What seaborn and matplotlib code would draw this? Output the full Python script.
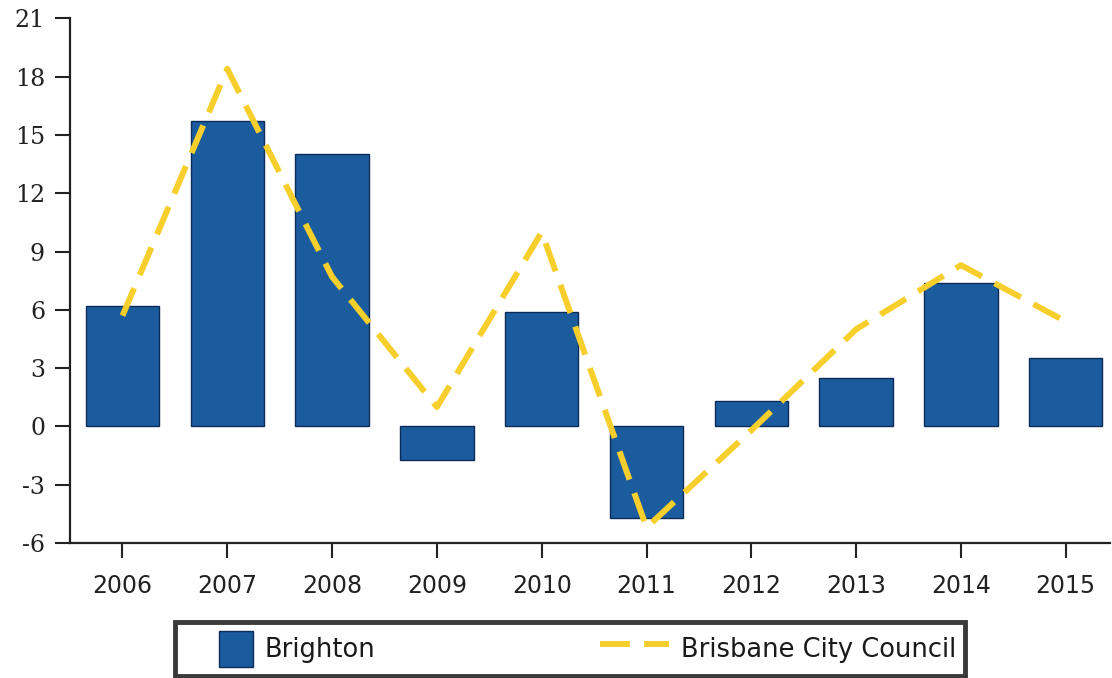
import numpy as np
import pandas as pd
import matplotlib
matplotlib.use("Agg")
import matplotlib.pyplot as plt
import seaborn as sns
from matplotlib.patches import Patch, Rectangle
from matplotlib.lines import Line2D
from matplotlib.legend_handler import HandlerPatch

years = ["2006", "2007", "2008", "2009", "2010", "2011", "2012", "2013", "2014", "2015"]
brighton = [6.2, 15.7, 14.0, -1.7, 5.9, -4.7, 1.3, 2.5, 7.4, 3.5]
brisbane = [5.7, 18.4, 7.7, 1.0, 10.0, -5.2, -0.2, 5.0, 8.3, 5.4]
yticks = [-6, -3, 0, 3, 6, 9, 12, 15, 18, 21]

BAR = "#1b5c9e"
BAR_EDGE = "#0c2b57"
YEL = "#f6cf2c"
AXC = "#222222"

sns.set_style("white")
plt.rcParams["font.family"] = ["DejaVu Sans"]
plt.rcParams["axes.unicode_minus"] = False

df = pd.DataFrame({"year": years, "Brighton": brighton, "Brisbane City Council": brisbane})

fig = plt.figure(figsize=(11.12, 6.78), dpi=100)
ax = fig.add_axes([0.063, 0.199, 0.935, 0.774])

sns.barplot(data=df, x="year", y="Brighton", color=BAR, width=0.7, saturation=1,
            edgecolor=BAR_EDGE, linewidth=1, ax=ax)
sns.pointplot(data=df, x="year", y="Brisbane City Council", color=YEL, marker="",
              linestyle=(0, (5, 2.4)), linewidth=4.3, errorbar=None, ax=ax)

ax.set_xlim(-0.5, 9.42)
ax.set_ylim(-6, 21)
ax.set_yticks(yticks)
ax.set_xlabel("")
ax.set_ylabel("")
for s in ["top", "right"]:
    ax.spines[s].set_visible(False)
for s in ["left", "bottom"]:
    ax.spines[s].set_color(AXC)
    ax.spines[s].set_linewidth(1.6)
ax.tick_params(axis="both", direction="out", length=11, width=1.5, color=AXC,
               labelcolor=AXC, bottom=True, left=True)
ax.tick_params(axis="y", pad=7)
ax.tick_params(axis="x", labelsize=17, pad=11)
for t in ax.get_yticklabels():
    t.set_fontfamily("DejaVu Serif")
    t.set_fontsize(17)


def narrow_patch(legend, orig_handle, xdescent, ydescent, width, height, fontsize):
    w = 25
    return Rectangle((-xdescent + width - w, -ydescent), w, height)


handles = [
    Patch(facecolor=BAR, edgecolor=BAR_EDGE, linewidth=1, label="Brighton"),
    Line2D([0], [0], color=YEL, linewidth=4.3, linestyle=(0, (5, 2.4)),
           label="Brisbane City Council"),
]
leg = fig.legend(handles=handles, loc="upper left",
                 bbox_to_anchor=(175 / 1112, 1 - 622 / 678, 790 / 1112, 0),
                 mode="expand", ncol=2, fontsize=18.5, handlelength=2.7,
                 handleheight=1.8, handletextpad=0.45, borderpad=0.35,
                 borderaxespad=0,
                 fancybox=False, framealpha=1, edgecolor="#3a3a3a",
                 handler_map={Patch: HandlerPatch(patch_func=narrow_patch)})
leg.get_frame().set_linewidth(3.5)
for t in leg.get_texts():
    t.set_color("#1a1a1a")

fig.savefig("out.png", dpi=100)
